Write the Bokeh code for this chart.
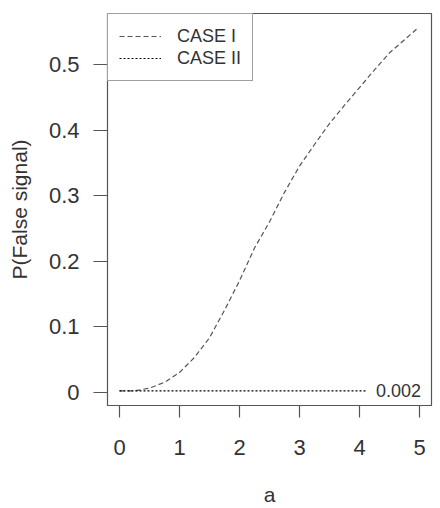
from bokeh.plotting import figure
from bokeh.models import Range1d, FixedTicker, Legend, LegendItem, ColumnDataSource
from bokeh.core.properties import value
from bokeh.embed import file_html
from bokeh.resources import INLINE

# Data
a_case1 = [0, 0.25, 0.5, 0.75, 1.0, 1.25, 1.5, 1.75, 2.0, 2.25, 2.5, 2.75,
           3.0, 3.25, 3.5, 3.75, 4.0, 4.25, 4.5, 4.75, 4.95]
p_case1 = [0.002, 0.002, 0.006, 0.015, 0.030, 0.053, 0.083, 0.125, 0.170, 0.220,
           0.260, 0.305, 0.345, 0.378, 0.410, 0.438, 0.465, 0.492, 0.518, 0.538, 0.554]
a_case2 = [0, 4.1]
p_case2 = [0.002, 0.002]
note_x = [4.65]
note_y = [0.002]
note_text = ["0.002"]
x_ticks = [0, 1, 2, 3, 4, 5]
y_ticks = [0, 0.1, 0.2, 0.3, 0.4, 0.5]
y_tick_labels = ["0", "0.1", "0.2", "0.3", "0.4", "0.5"]
series_names = ["CASE I", "CASE II"]

FONT = "Liberation Sans"
TXT = "#333333"

p = figure(width=440, height=508, output_backend="svg", toolbar_location=None,
           x_range=Range1d(-0.2, 5.2), y_range=Range1d(-0.0204, 0.578),
           min_border_left=107, min_border_right=9, min_border_top=13,
           min_border_bottom=103)
p.grid.visible = False
p.background_fill_color = "white"
p.border_fill_color = "white"
p.outline_line_color = "#555555"
p.outline_line_width = 1.2

r1 = p.line(a_case1, p_case1, line_color="#555555", line_width=1.2, line_dash="5 3")
r2 = p.line(a_case2, p_case2, line_color="black", line_width=1.2, line_dash="2 2")

src = ColumnDataSource(dict(x=note_x, y=note_y, t=note_text))
p.text(x="x", y="y", text="t", source=src, text_align="center", text_baseline="middle",
       text_font=value(FONT), text_font_size="18px", text_color=TXT)

for ax in (p.xaxis[0], p.yaxis[0]):
    ax.axis_line_color = None
    ax.major_tick_line_color = "#555555"
    ax.major_tick_line_width = 1.2
    ax.minor_tick_line_color = None
    ax.major_tick_in = 0
    ax.major_label_text_font = FONT
    ax.major_label_text_font_size = "22px"
    ax.major_label_text_color = TXT
    ax.axis_label_text_font = FONT
    ax.axis_label_text_font_size = "21px"
    ax.axis_label_text_font_style = "normal"
    ax.axis_label_text_color = TXT

p.xaxis.ticker = FixedTicker(ticks=x_ticks)
p.xaxis.major_tick_out = 12
p.xaxis.major_label_standoff = 22
p.xaxis.axis_label = "a"
p.xaxis.axis_label_standoff = 25

p.yaxis.ticker = FixedTicker(ticks=y_ticks)
p.yaxis.major_label_overrides = {t: l for t, l in zip(y_ticks, y_tick_labels)}
p.yaxis.major_tick_out = 14
p.yaxis.major_label_standoff = 14
p.yaxis.axis_label = "P(False signal)"
p.yaxis.axis_label_standoff = 15

legend = Legend(items=[LegendItem(label=series_names[0], renderers=[r1]),
                       LegendItem(label=series_names[1], renderers=[r2])],
                location="top_left", margin=0, padding=11, spacing=0,
                glyph_width=42, glyph_height=22, label_height=22, label_standoff=16,
                label_text_font=FONT, label_text_font_size="18px", label_text_color=TXT,
                border_line_color="#444444", border_line_width=1.2,
                background_fill_color="white", background_fill_alpha=1.0)
p.add_layout(legend)

open("out.html", "w").write(file_html(p, INLINE))
